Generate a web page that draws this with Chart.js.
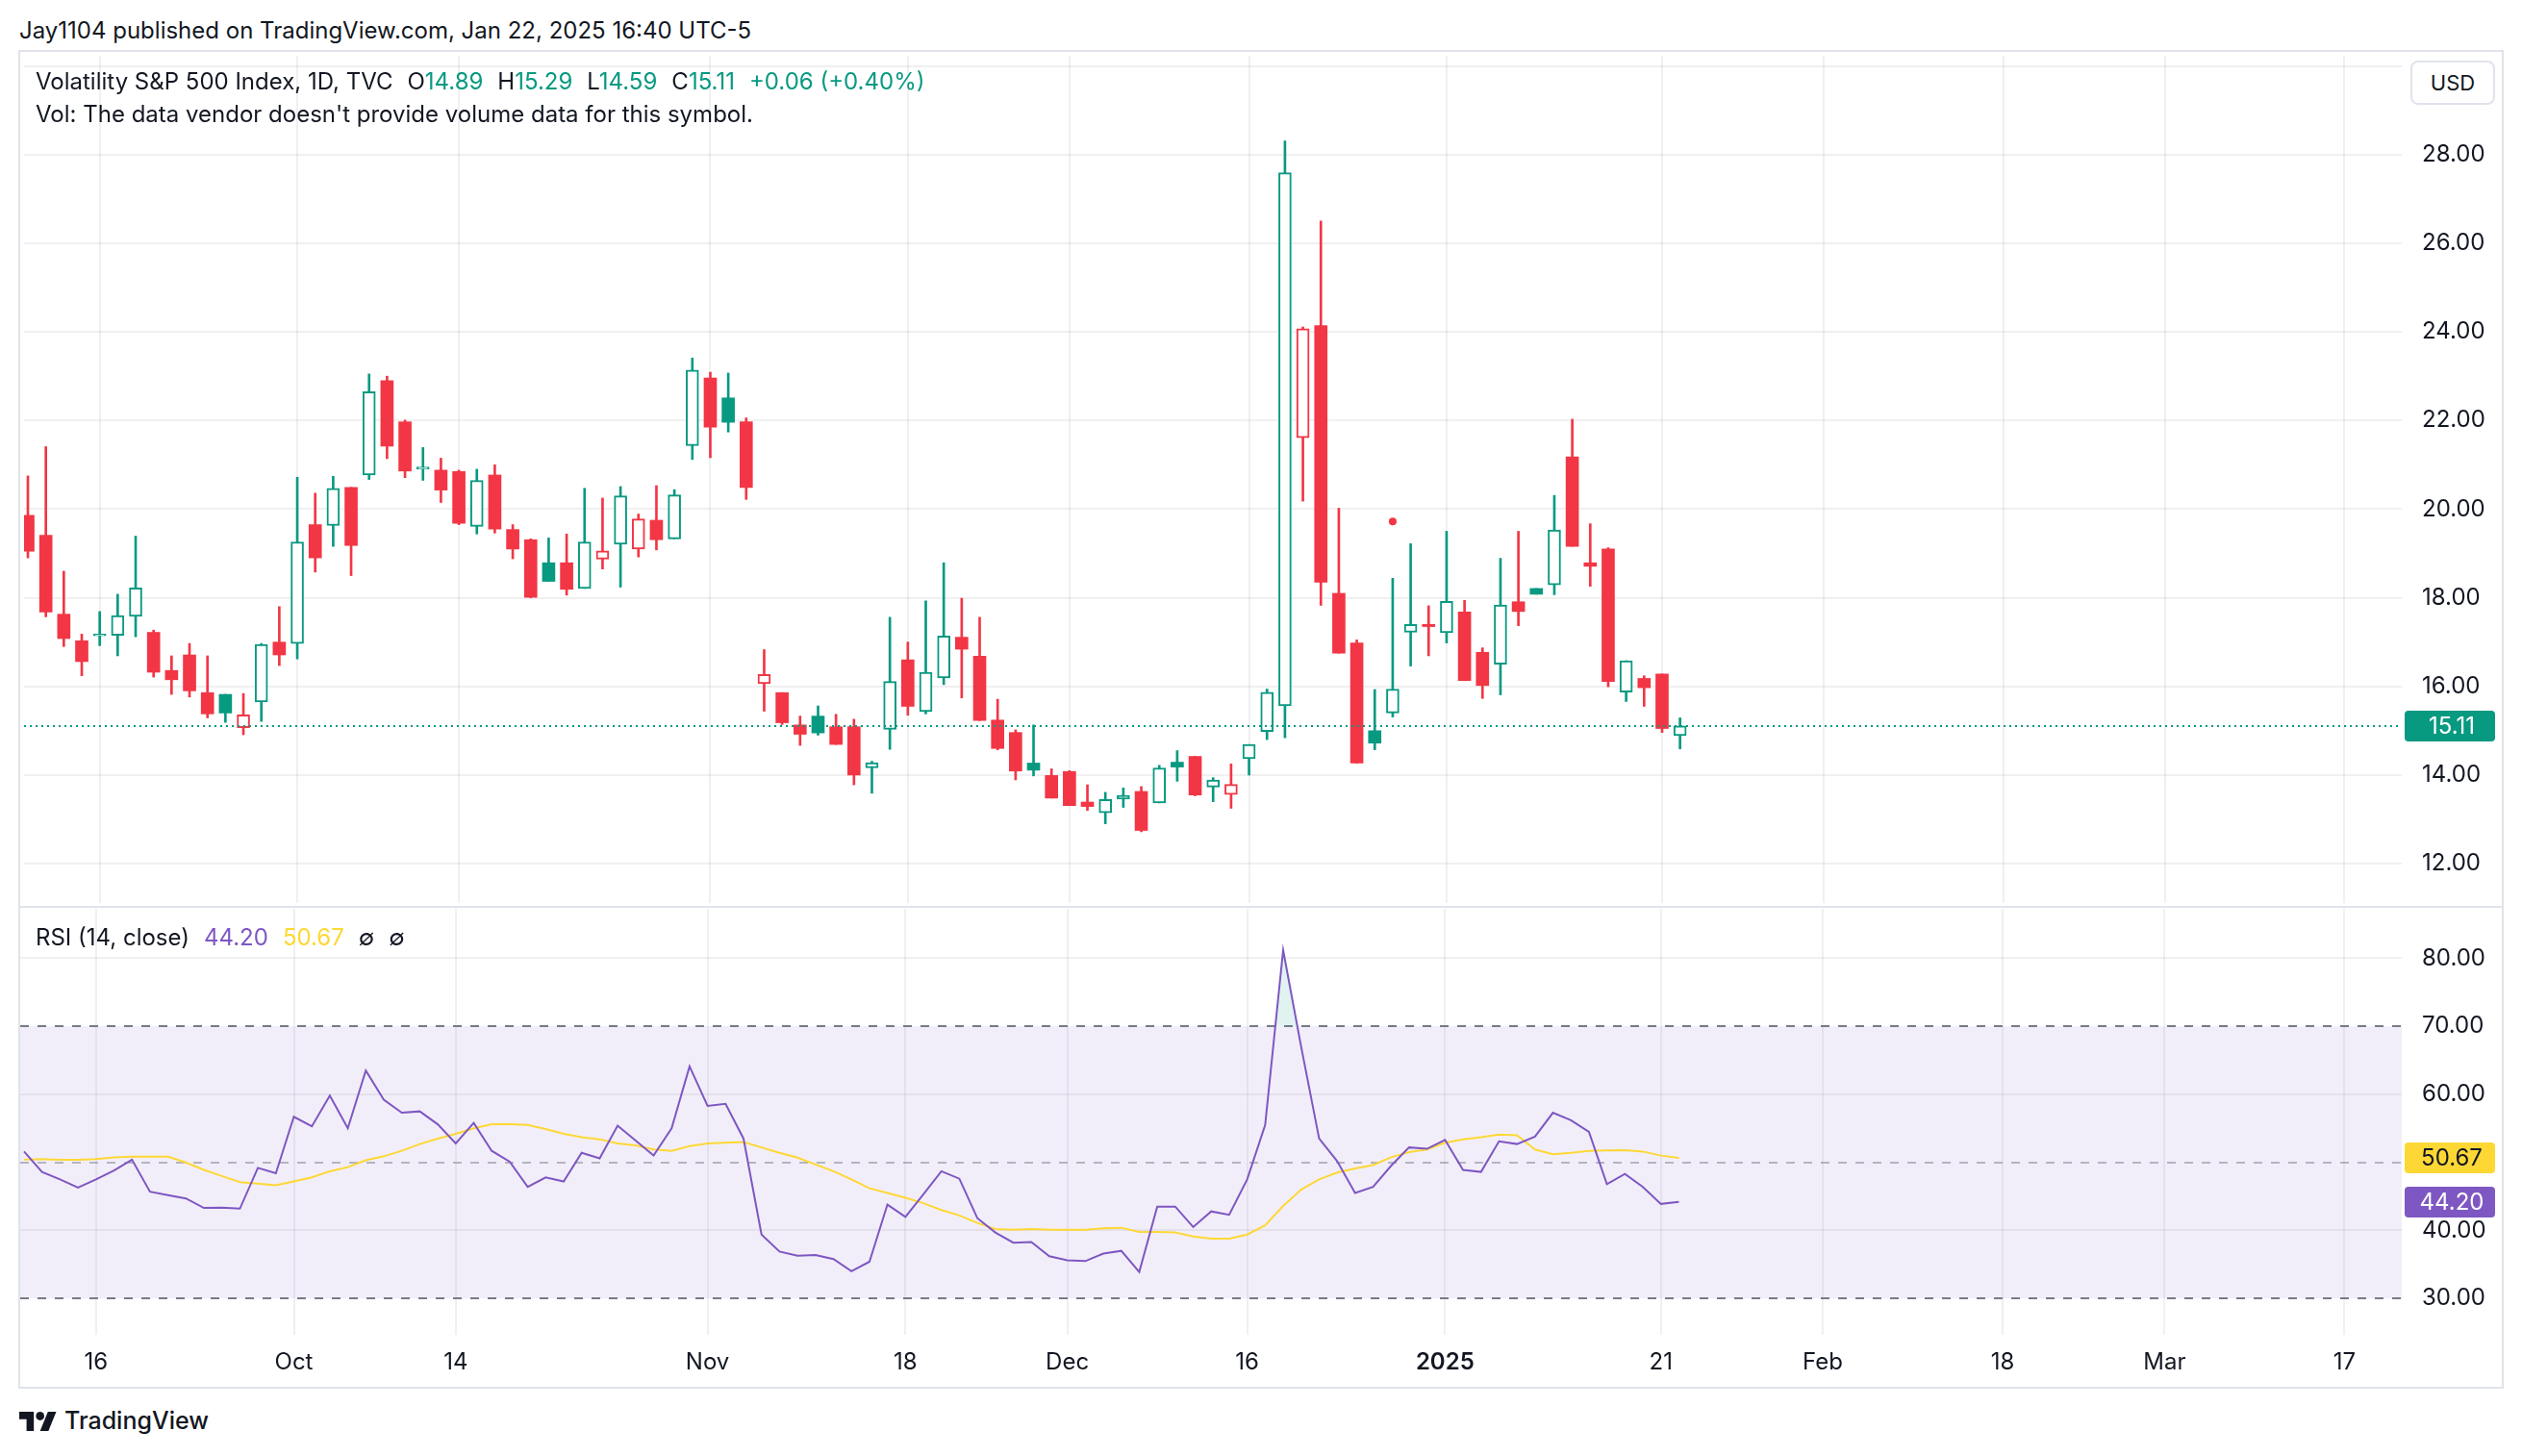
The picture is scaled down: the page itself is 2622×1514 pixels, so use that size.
<!DOCTYPE html>
<html>
<head>
<meta charset="utf-8">
<title>VIX daily – TradingView snapshot</title>
<script src="https://cdn.jsdelivr.net/npm/chart.js@4.4.1/dist/chart.umd.min.js"></script>
<style>
  html, body { margin: 0; padding: 0; background: #fff; }
  body { width: 2622px; height: 1514px; position: relative; overflow: hidden;
         font-family: Inter, "Noto Sans", sans-serif; color: #131722; }
  .abs { position: absolute; }
  #published { left: 20px; top: 17px; font-size: 24px; line-height: 30px; white-space: nowrap; }
  #frame { left: 19px; top: 52px; width: 2584px; height: 1392px; border: 2px solid #e0e3eb; box-sizing: border-box; }
  #sep { left: 21px; top: 942px; width: 2580px; height: 2px; background: #e0e3eb; }
  .legend { left: 37px; font-size: 24px; line-height: 30px; white-space: nowrap; }
  .legend .item { margin-left: 15px; }
  #legend1 { top: 70px; }
  #legend2 { top: 104px; }
  #legend3 { top: 960px; }
  .up { color: #089981; }
  .rsi { color: #7E57C2; }
  .ma { color: #FDD835; }
  #usd { left: 2506px; top: 63px; width: 88px; height: 46px; border: 2px solid #e0e3eb; border-radius: 8px;
         box-sizing: border-box; background: #fff; font-size: 22px; line-height: 42px; text-align: center; }
  #logo { left: 20px; top: 1468px; }
  #brand { left: 67px; top: 1460px; font-size: 25px; line-height: 34px; font-weight: 500; }
</style>
</head>
<body>
<div id="published" class="abs">Jay1104 published on TradingView.com, Jan 22, 2025 16:40 UTC-5</div>
<div id="frame" class="abs"></div>
<canvas id="price" class="abs" width="2580" height="889" style="left:21px;top:54px"></canvas>
<div id="sep" class="abs"></div>
<canvas id="rsi" class="abs" width="2580" height="497" style="left:21px;top:945px"></canvas>
<div id="legend1" class="abs legend"></div>
<div id="legend2" class="abs legend">Vol: The data vendor doesn't provide volume data for this symbol.</div>
<div id="legend3" class="abs legend"></div>
<div id="usd" class="abs">USD</div>
<svg id="logo" class="abs" width="39" height="20" viewBox="0 4 36 18" preserveAspectRatio="none">
  <path d="M14 22H7V11H0V4h14v18zM28 22h-8l7.5-18h8L28 22z" fill="#131722"/>
  <circle cx="20" cy="8" r="4" fill="#131722"/>
</svg>
<div id="brand" class="abs">TradingView</div>

<script>
const UP = '#089981';
const DOWN = '#F23645';
const RSI_COLOR = '#7E57C2';
const MA_COLOR = '#FDD835';
const FONT = 'Inter, "Noto Sans", sans-serif';
const GRID = 'rgba(42, 46, 57, 0.07)';

// daily sessions, Sep 10 2024 .. Jan 22 2025
const sessions = [
  'Sep 10', 'Sep 11', 'Sep 12', 'Sep 13', 'Sep 16', 'Sep 17', 'Sep 18', 'Sep 19', 'Sep 20', 'Sep 23',
  'Sep 24', 'Sep 25', 'Sep 26', 'Sep 27', 'Sep 30', 'Oct 1', 'Oct 2', 'Oct 3', 'Oct 4', 'Oct 7',
  'Oct 8', 'Oct 9', 'Oct 10', 'Oct 11', 'Oct 14', 'Oct 15', 'Oct 16', 'Oct 17', 'Oct 18', 'Oct 21',
  'Oct 22', 'Oct 23', 'Oct 24', 'Oct 25', 'Oct 28', 'Oct 29', 'Oct 30', 'Oct 31', 'Nov 1', 'Nov 4',
  'Nov 5', 'Nov 6', 'Nov 7', 'Nov 8', 'Nov 11', 'Nov 12', 'Nov 13', 'Nov 14', 'Nov 15', 'Nov 18',
  'Nov 19', 'Nov 20', 'Nov 21', 'Nov 22', 'Nov 25', 'Nov 26', 'Nov 27', 'Nov 29', 'Dec 2', 'Dec 3',
  'Dec 4', 'Dec 5', 'Dec 6', 'Dec 9', 'Dec 10', 'Dec 11', 'Dec 12', 'Dec 13', 'Dec 16', 'Dec 17',
  'Dec 18', 'Dec 19', 'Dec 20', 'Dec 23', 'Dec 24', 'Dec 26', 'Dec 27', 'Dec 30', 'Dec 31', 'Jan 2',
  'Jan 3', 'Jan 6', 'Jan 7', 'Jan 8', 'Jan 9', 'Jan 10', 'Jan 13', 'Jan 14', 'Jan 15', 'Jan 16',
  'Jan 17', 'Jan 21', 'Jan 22'
];

const opens = [
  19.86, 19.41, 17.63, 17.03, 17.14, 17.15, 17.58, 17.22, 16.36, 16.71,
  15.86, 15.82, 15.07, 15.65, 17.00, 16.97, 19.65, 19.63, 20.49, 20.77,
  22.90, 21.97, 20.90, 20.88, 20.85, 19.61, 20.77, 19.54, 19.31, 18.79,
  18.79, 18.21, 18.87, 19.21, 19.10, 19.75, 19.33, 21.43, 22.96, 22.51,
  21.97, 16.06, 15.86, 15.13, 15.33, 15.09, 15.09, 14.16, 15.03, 16.60,
  15.43, 16.19, 17.11, 16.68, 15.24, 14.96, 14.27, 13.99, 14.08, 13.39,
  13.15, 13.46, 13.63, 13.37, 14.29, 14.42, 13.73, 13.56, 14.37, 14.98,
  15.56, 21.61, 24.14, 18.10, 16.98, 15.00, 15.40, 17.22, 17.40, 17.21,
  17.68, 16.77, 16.50, 17.91, 18.21, 18.29, 21.18, 18.79, 19.10, 15.87,
  16.18, 16.28, 14.89
];
const highs = [
  20.75, 21.41, 18.60, 17.18, 17.69, 18.08, 19.39, 17.27, 16.69, 16.97,
  16.69, 15.82, 15.84, 16.97, 17.80, 20.72, 20.36, 20.74, 20.49, 23.05,
  23.00, 22.01, 21.39, 21.15, 20.88, 20.90, 21.00, 19.65, 19.33, 19.35,
  19.44, 20.47, 20.25, 20.51, 19.89, 20.53, 20.44, 23.41, 23.09, 23.07,
  22.06, 16.83, 15.86, 15.33, 15.56, 15.37, 15.26, 14.31, 17.56, 17.00,
  17.93, 18.79, 17.99, 17.56, 15.71, 15.02, 15.13, 14.14, 14.10, 13.78,
  13.61, 13.71, 13.74, 14.22, 14.55, 14.42, 13.94, 14.25, 14.69, 15.94,
  28.31, 24.11, 26.50, 20.02, 17.05, 15.93, 18.44, 19.22, 17.82, 19.50,
  17.94, 16.87, 18.89, 19.50, 18.21, 20.31, 22.03, 19.67, 19.13, 16.58,
  16.24, 16.28, 15.29
];
const lows = [
  18.90, 17.57, 16.90, 16.24, 16.92, 16.69, 17.12, 16.21, 15.82, 15.76,
  15.29, 15.19, 14.91, 15.21, 16.47, 16.62, 18.58, 19.16, 18.50, 20.67,
  21.14, 20.71, 20.65, 20.15, 19.65, 19.44, 19.46, 18.88, 18.00, 18.37,
  18.06, 18.21, 18.65, 18.24, 18.92, 19.08, 19.33, 21.12, 21.16, 21.74,
  20.22, 15.44, 15.14, 14.67, 14.90, 14.69, 13.78, 13.59, 14.58, 15.35,
  15.38, 16.04, 15.74, 15.23, 14.57, 13.89, 13.98, 13.48, 13.31, 13.20,
  12.90, 13.27, 12.72, 13.37, 13.86, 13.53, 13.40, 13.25, 14.00, 14.80,
  14.84, 20.18, 17.83, 16.75, 14.27, 14.57, 15.31, 16.46, 16.69, 16.98,
  16.13, 15.73, 15.81, 17.37, 18.08, 18.07, 19.16, 18.26, 15.99, 15.66,
  15.55, 14.96, 14.59
];
const closes = [
  19.05, 17.68, 17.08, 16.56, 17.18, 17.60, 18.22, 16.32, 16.15, 15.90,
  15.38, 15.40, 15.36, 16.95, 16.71, 19.26, 18.90, 20.47, 19.18, 22.65,
  21.42, 20.86, 20.95, 20.43, 19.68, 20.65, 19.55, 19.10, 18.01, 18.37,
  18.19, 19.26, 19.06, 20.30, 19.78, 19.31, 20.32, 23.14, 21.85, 21.96,
  20.49, 16.27, 15.18, 14.92, 14.95, 14.69, 14.00, 14.28, 16.11, 15.55,
  16.32, 17.14, 16.84, 15.23, 14.60, 14.09, 14.11, 13.48, 13.31, 13.29,
  13.45, 13.54, 12.75, 14.16, 14.18, 13.55, 13.89, 13.79, 14.69, 15.87,
  27.59, 24.07, 18.35, 16.75, 14.27, 14.72, 15.94, 17.40, 17.35, 17.92,
  16.13, 16.02, 17.84, 17.69, 18.08, 19.53, 19.16, 18.71, 16.11, 16.58,
  15.97, 15.05, 15.11
];

// marker dot shown above the Dec 27 session
const markerIdx = [76];
const markerPrice = [19.72];

// RSI(14) and its moving average
const rsiValues = [
  51.6, 48.6, 47.5, 46.3, 47.5, 48.8, 50.4, 45.7, 45.2, 44.7,
  43.3, 43.35, 43.2, 49.2, 48.4, 56.7, 55.3, 59.8, 55.0, 63.5,
  59.2, 57.3, 57.5, 55.6, 52.8, 55.8, 51.7, 50.1, 46.4, 47.8,
  47.2, 51.4, 50.6, 55.4, 53.2, 51.0, 55.0, 64.1, 58.3, 58.6,
  53.5, 39.4, 36.9, 36.3, 36.4, 35.8, 34.0, 35.4, 43.8, 42.0,
  45.3, 48.7, 47.6, 41.8, 39.7, 38.2, 38.3, 36.2, 35.6, 35.5,
  36.6, 37.0, 33.9, 43.5, 43.5, 40.5, 42.8, 42.3, 47.5, 55.5,
  81.2, 67.0, 53.5, 50.2, 45.5, 46.4, 49.5, 52.2, 52.0, 53.3,
  48.9, 48.6, 53.1, 52.7, 53.8, 57.3, 56.2, 54.5, 46.8, 48.3,
  46.4, 43.9, 44.20
];
const rsiMaValues = [
  50.4, 50.5, 50.4, 50.4, 50.5, 50.75, 50.85, 50.85, 50.85, 50.0,
  48.9, 48.0, 47.1, 46.9, 46.65, 47.2, 47.8, 48.7, 49.3, 50.3,
  50.9, 51.7, 52.7, 53.5, 54.2, 55.0, 55.6, 55.6, 55.5, 54.9,
  54.2, 53.7, 53.4, 52.8, 52.5, 51.9, 51.7, 52.4, 52.8, 52.9,
  53.0, 52.2, 51.4, 50.7, 49.7, 48.7, 47.5, 46.2, 45.5, 44.8,
  44.0, 43.0, 42.2, 41.1, 40.2, 40.1, 40.2, 40.1, 40.1, 40.1,
  40.3, 40.4, 39.8, 39.8, 39.7, 39.1, 38.8, 38.8, 39.4, 40.75,
  43.6, 46.0, 47.5, 48.5, 49.1, 49.6, 50.75, 51.5, 51.9, 52.9,
  53.4, 53.7, 54.1, 54.0, 51.9, 51.2, 51.4, 51.7, 51.75, 51.8,
  51.6, 51.0, 50.67
];

// time axis: session index of each label (projected sessions after Jan 22)
const timeTickIdx = [4, 15, 24, 38, 49, 58, 68, 79, 91, 100, 110, 119, 129];
const timeTickLabels = ['16', 'Oct', '14', 'Nov', '18', 'Dec', '16', '2025', '21', 'Feb', '18', 'Mar', '17'];
const priceTicks = [12, 14, 16, 18, 20, 22, 24, 26, 28, 30];
const rsiTicks = [30, 40, 50, 60, 70, 80];

// visible window
const X_MIN = -0.214, X_MAX = 132.19;
const PRICE_MIN = 11.112, PRICE_MAX = 30.23;
const RSI_MIN = 24.66, RSI_MAX = 87.27;
const AXIS_W = 104;

// ---- legends from data ----
const n = closes.length;
const last = n - 1;
const chg = closes[last] - closes[last - 1];
const pct = chg / closes[last - 1] * 100;
const sign = v => (v >= 0 ? '+' : '') + v.toFixed(2);
document.getElementById('legend1').innerHTML =
  'Volatility S&amp;P 500 Index, 1D, TVC' +
  `<span class="item">O<span class="up">${opens[last].toFixed(2)}</span></span>` +
  `<span class="item">H<span class="up">${highs[last].toFixed(2)}</span></span>` +
  `<span class="item">L<span class="up">${lows[last].toFixed(2)}</span></span>` +
  `<span class="item">C<span class="up">${closes[last].toFixed(2)}</span></span>` +
  `<span class="item up">${sign(chg)} (${sign(pct)}%)</span>`;
document.getElementById('legend3').innerHTML =
  'RSI (14, close)' +
  `<span class="item rsi">${rsiValues[last].toFixed(2)}</span>` +
  `<span class="item ma">${rsiMaValues[last].toFixed(2)}</span>` +
  '<span class="item">∅</span><span class="item">∅</span>';

// ---- candles ----
const isUp = closes.map((c, i) => i > 0 && c >= closes[i - 1]);
const candleColor = isUp.map(u => (u ? UP : DOWN));
const hollow = closes.map((c, i) => c > opens[i]);
const wicks = closes.map((c, i) => ({ x: i, y: [lows[i], highs[i]] }));
const bodies = closes.map((c, i) => ({ x: i, y: [opens[i], c] }));

function zeroPad(s) {
  s.paddingLeft = 0; s.paddingRight = 0; s.paddingTop = 0; s.paddingBottom = 0;
}

function badge(chart, value, text, bg, fg) {
  const { ctx, chartArea: a } = chart;
  const y = chart.scales.y.getPixelForValue(value);
  const x0 = a.right + 3, w = 94, h = 32;
  ctx.save();
  ctx.fillStyle = bg;
  ctx.beginPath();
  ctx.roundRect(x0, Math.round(y - h / 2), w, h, 4);
  ctx.fill();
  ctx.fillStyle = fg;
  ctx.font = '24px ' + FONT;
  ctx.textAlign = 'center';
  ctx.textBaseline = 'middle';
  ctx.fillText(text, a.right + AXIS_W / 2, y + 1);
  ctx.restore();
}

const lastPrice = {
  id: 'lastPrice',
  afterDatasetsDraw(chart) {
    const { ctx, chartArea: a, scales: { y } } = chart;
    const py = Math.round(y.getPixelForValue(closes[last]));
    ctx.save();
    ctx.strokeStyle = UP;
    ctx.lineWidth = 2;
    ctx.setLineDash([2, 4]);
    ctx.beginPath();
    ctx.moveTo(a.left, py);
    ctx.lineTo(a.right, py);
    ctx.stroke();
    ctx.restore();
  },
  afterDraw(chart) {
    badge(chart, closes[last], closes[last].toFixed(2), UP, '#ffffff');
  }
};

const timeGrid = {
  type: 'linear', min: X_MIN, max: X_MAX, offset: false,
  afterBuildTicks: s => { s.ticks = timeTickIdx.map(v => ({ value: v })); },
  grid: { color: GRID, lineWidth: 2, drawTicks: false, offset: false },
  border: { display: false }
};

const yTicks = {
  crossAlign: 'near', padding: 21, color: '#131722', font: { family: FONT, size: 24 }
};

new Chart(document.getElementById('price'), {
  type: 'bar',
  data: {
    datasets: [
      {
        type: 'line', data: markerIdx.map((x, k) => ({ x, y: markerPrice[k] })),
        showLine: false, pointRadius: 4, pointBackgroundColor: DOWN, pointBorderWidth: 0, order: 0
      },
      {
        data: bodies, backgroundColor: hollow.map((h, i) => (h ? '#ffffff' : candleColor[i])),
        borderColor: candleColor, borderWidth: hollow.map(h => (h ? 2 : 0)), borderSkipped: false,
        barThickness: 13, grouped: false, order: 1
      },
      {
        data: wicks, backgroundColor: candleColor, borderWidth: 0,
        barThickness: 2, grouped: false, order: 2
      }
    ]
  },
  options: {
    responsive: false, animation: false,
    layout: { padding: 0 },
    plugins: { legend: { display: false }, tooltip: { enabled: false } },
    scales: {
      x: Object.assign({}, timeGrid, {
        ticks: { display: false },
        afterFit: s => { s.height = 0; zeroPad(s); }
      }),
      y: {
        type: 'linear', position: 'right', min: PRICE_MIN, max: PRICE_MAX,
        afterBuildTicks: s => { s.ticks = priceTicks.map(v => ({ value: v })); },
        afterFit: s => { s.width = AXIS_W; zeroPad(s); },
        grid: { color: GRID, lineWidth: 2, drawTicks: false },
        border: { display: false },
        ticks: Object.assign({}, yTicks, { callback: v => (v === 30 ? '' : v.toFixed(2)) })
      }
    }
  },
  plugins: [lastPrice]
});

// ---- RSI pane ----
const rsiBand = {
  id: 'rsiBand',
  beforeDatasetsDraw(chart) {
    const { ctx, chartArea: a, scales: { y } } = chart;
    const y70 = y.getPixelForValue(70), y50 = y.getPixelForValue(50), y30 = y.getPixelForValue(30);
    ctx.save();
    ctx.fillStyle = 'rgba(126, 87, 194, 0.1)';
    ctx.fillRect(a.left, y70, a.right - a.left, y30 - y70);
    ctx.lineWidth = 2;
    ctx.setLineDash([9, 9]);
    [[y70, '#787B86'], [y30, '#787B86'], [y50, 'rgba(120, 123, 134, 0.5)']].forEach(([py, c]) => {
      ctx.strokeStyle = c;
      ctx.beginPath();
      ctx.moveTo(a.left, Math.round(py));
      ctx.lineTo(a.right, Math.round(py));
      ctx.stroke();
    });
    ctx.restore();
  },
  afterDraw(chart) {
    badge(chart, rsiMaValues[last], rsiMaValues[last].toFixed(2), MA_COLOR, '#131722');
    badge(chart, rsiValues[last], rsiValues[last].toFixed(2), RSI_COLOR, '#ffffff');
  }
};

new Chart(document.getElementById('rsi'), {
  type: 'line',
  data: {
    datasets: [
      {
        data: rsiValues.map((v, i) => ({ x: i, y: v })),
        borderColor: RSI_COLOR, borderWidth: 2, pointRadius: 0, tension: 0,
        fill: { target: { value: 70 }, above: 'rgba(8, 153, 129, 0.12)', below: 'rgba(0, 0, 0, 0)' },
        order: 0
      },
      {
        data: rsiMaValues.map((v, i) => ({ x: i, y: v })),
        borderColor: MA_COLOR, borderWidth: 2, pointRadius: 0, tension: 0, fill: false,
        order: 1
      }
    ]
  },
  options: {
    responsive: false, animation: false,
    layout: { padding: 0 },
    plugins: { legend: { display: false }, tooltip: { enabled: false } },
    scales: {
      x: Object.assign({}, timeGrid, {
        afterFit: s => { s.height = 54; zeroPad(s); },
        ticks: {
          autoSkip: false, maxRotation: 0, padding: 14, color: '#131722',
          font: c => ({ family: FONT, size: 24, weight: c.tick && c.tick.label === '2025' ? '600' : '400' }),
          callback: (v, k) => timeTickLabels[k]
        }
      }),
      y: {
        type: 'linear', position: 'right', min: RSI_MIN, max: RSI_MAX,
        afterBuildTicks: s => { s.ticks = rsiTicks.map(v => ({ value: v })); },
        afterFit: s => { s.width = AXIS_W; zeroPad(s); },
        grid: { color: c => (c.tick && c.tick.value % 20 === 0 ? GRID : 'rgba(0,0,0,0)'), lineWidth: 2, drawTicks: false },
        border: { display: false },
        ticks: Object.assign({}, yTicks, { callback: v => v.toFixed(2) })
      }
    }
  },
  plugins: [rsiBand]
});
</script>
</body>
</html>
